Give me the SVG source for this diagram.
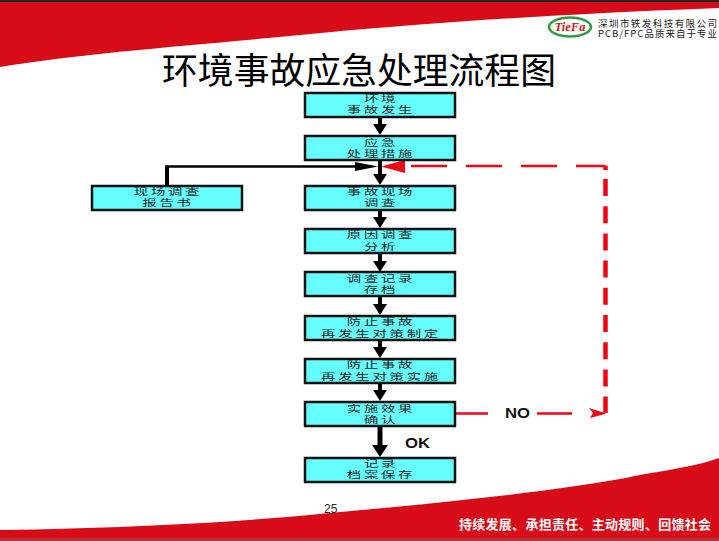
<svg xmlns="http://www.w3.org/2000/svg" width="719" height="541" viewBox="0 0 719 541">
<style>
.box{fill:#66ffff;stroke:#111;stroke-width:2.5}
.lbl{font-family:"Noto Sans CJK SC",sans-serif;font-size:11.5px;fill:#222;text-anchor:middle;letter-spacing:2.2px}
.arr{fill:none;stroke:#000;stroke-width:4}
.red{fill:none;stroke:#f00514;stroke-width:2.5}
.en{font-family:"Liberation Sans",Arial,sans-serif;font-weight:700;font-size:14px;fill:#111}
.f{font-family:"Noto Sans CJK SC",sans-serif}
</style>
<rect width="719" height="541" fill="#fff"/>
<path d="M0,1H719V8C560,14 440,22 321,33C200,45 90,52 0,67Z" fill="#d80c18"/>
<rect width="719" height="2" fill="#222"/>
<path d="M0,530C130,528 240,522 330,513C440,503 570,490 640,475C670,470 700,465 719,458V541H0Z" fill="#d80c18"/>
<rect y="538" width="719" height="3" fill="#b8323a"/>
<text x="162" y="84" class="f" font-size="36" fill="#000" textLength="394" lengthAdjust="spacingAndGlyphs">环境事故应急处理流程图</text>
<g id="logo">
<ellipse cx="570" cy="27" rx="21" ry="9.500" fill="#fff" stroke="#2e9b46" stroke-width="2.500"/>
<text x="570" y="31" font-family="Liberation Serif,serif" font-size="12.500" font-style="italic" font-weight="700" fill="#d01a20" text-anchor="middle">TieFa</text>
<text x="598" y="27" class="f" font-size="9.500" fill="#222" textLength="119">深圳市铁发科技有限公司</text>
<text x="598" y="37" class="f" font-size="9.500" fill="#222" textLength="119">PCB/FPC品质来自于专业</text>
</g>
<g id="connectors">
<path class="arr" d="M380,117V126"/><polygon points="373,124 387,124 380,135"/>
<path class="arr" d="M380,160V176"/><polygon points="373,174 387,174 380,185"/>
<path class="arr" d="M380,210V219"/><polygon points="373,217 387,217 380,228"/>
<path class="arr" d="M380,253V263"/><polygon points="373,261 387,261 380,272"/>
<path class="arr" d="M380,297V306"/><polygon points="373,304 387,304 380,315"/>
<path class="arr" d="M380,340V349"/><polygon points="373,347 387,347 380,358"/>
<path class="arr" d="M380,383V392"/><polygon points="373,390 387,390 380,401"/>
<path d="M380,426V446" fill="none" stroke="#000" stroke-width="5"/><polygon points="372,445 388,445 380,457"/>
<path d="M167,185V167" fill="none" stroke="#000" stroke-width="4"/>
<path d="M165,166.500H360" fill="none" stroke="#000" stroke-width="2.500"/>
<polygon points="355,162 378,166.500 355,171"/>
<polygon points="381,166.500 405,160 405,173" fill="#f00514"/>
<path class="red" d="M411,166H447M466,166H502M521,166H557M576,166H605"/>
<path d="M605.500,165.500V170" fill="none" stroke="#f00514" stroke-width="4.500"/>
<path d="M605.500,179V413" fill="none" stroke="#f00514" stroke-width="4.500" stroke-dasharray="17 10.200"/>
<path class="red" d="M456,413.500H488M537,413.500H572"/>
<polygon points="589,408 605,413 605,414 590,418 593,413" fill="#f00514"/>
</g>
<g id="n1"><rect class="box" x="305" y="93" width="150" height="24"/><text class="lbl" transform="translate(381,101.500) scale(1.25,.78)">环境</text><text class="lbl" transform="translate(381,112.500) scale(1.25,.78)">事故发生</text></g>
<g id="n2"><rect class="box" x="305" y="136" width="150" height="24"/><text class="lbl" transform="translate(381,145.500) scale(1.25,.78)">应急</text><text class="lbl" transform="translate(381,156.500) scale(1.25,.78)">处理措施</text></g>
<g id="n3"><rect class="box" x="92" y="186" width="150" height="24"/><text class="lbl" transform="translate(168,195) scale(1.25,.78)">现场调查</text><text class="lbl" transform="translate(168,206) scale(1.25,.78)">报告书</text></g>
<g id="n4"><rect class="box" x="305" y="186" width="150" height="24"/><text class="lbl" transform="translate(381,195) scale(1.25,.78)">事故现场</text><text class="lbl" transform="translate(381,206) scale(1.25,.78)">调查</text></g>
<g id="n5"><rect class="box" x="305" y="229" width="150" height="24"/><text class="lbl" transform="translate(381,238) scale(1.25,.78)">原因调查</text><text class="lbl" transform="translate(381,249.500) scale(1.25,.78)">分析</text></g>
<g id="n6"><rect class="box" x="305" y="272" width="150" height="24"/><text class="lbl" transform="translate(381,281.500) scale(1.25,.78)">调查记录</text><text class="lbl" transform="translate(381,292.500) scale(1.25,.78)">存档</text></g>
<g id="n7"><rect class="box" x="305" y="316" width="150" height="24"/><text class="lbl" transform="translate(381,325) scale(1.25,.78)">防止事故</text><text class="lbl" transform="translate(381,336.500) scale(1.25,.78)">再发生对策制定</text></g>
<g id="n8"><rect class="box" x="305" y="359" width="150" height="24"/><text class="lbl" transform="translate(381,368) scale(1.25,.78)">防止事故</text><text class="lbl" transform="translate(381,379.500) scale(1.25,.78)">再发生对策实施</text></g>
<g id="n9"><rect class="box" x="305" y="402" width="150" height="24"/><text class="lbl" transform="translate(381,411.500) scale(1.25,.78)">实施效果</text><text class="lbl" transform="translate(381,422.500) scale(1.25,.78)">确认</text></g>
<g id="n10"><rect class="box" x="305" y="458" width="150" height="24"/><text class="lbl" transform="translate(381,467) scale(1.25,.78)">记录</text><text class="lbl" transform="translate(381,478) scale(1.25,.78)">档案保存</text></g>
<text class="en" x="505" y="418" textLength="25" lengthAdjust="spacingAndGlyphs">NO</text>
<text class="en" x="405" y="448" textLength="25" lengthAdjust="spacingAndGlyphs">OK</text>
<text x="324" y="513" font-family="Liberation Sans,Arial,sans-serif" font-size="12" fill="#222">25</text>
<text x="459" y="529" class="f" font-size="13" font-weight="700" fill="#fff" textLength="252">持续发展、承担责任、主动规则、回馈社会</text>
</svg>
